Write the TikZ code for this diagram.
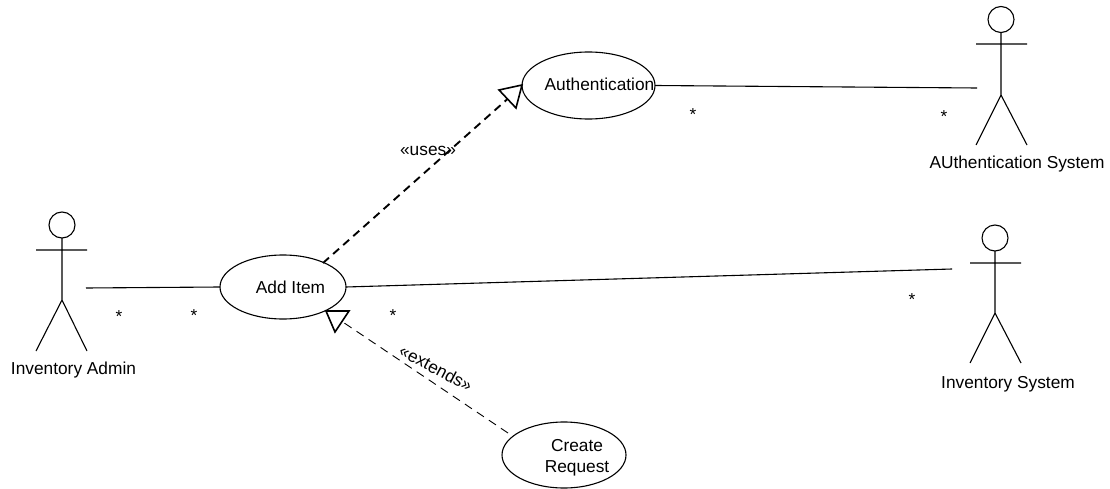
\documentclass[tikz,border=0pt]{standalone}
\usepackage{fontspec}
\usetikzlibrary{shapes.geometric}
\setmainfont{Liberation Sans}
\begin{document}
\begin{tikzpicture}[x=1pt,y=-1pt,
  line/.style={line width=1.1pt,black},
  usecase/.style={draw,ellipse,line width=1.1pt,inner sep=0pt,outer sep=0pt},
  label/.style={inner sep=0pt,outer sep=0pt,anchor=base,font=\fontsize{17.3}{21}\selectfont,align=center},
  head/.style={draw,circle,line width=1.1pt,inner sep=0pt,outer sep=0pt,minimum size=26pt},
  thickdash/.style={line width=1.9pt,dash pattern=on 8pt off 5.5pt},
  thindash/.style={line width=.9pt,dash pattern=on 8.5pt off 6pt},
  hollow/.style={draw,line width=1.6pt,fill=white,line join=miter}]
\useasboundingbox (0,0) rectangle (1110,489);
% use cases
\node[usecase,minimum width=126pt,minimum height=64pt] (add) at (283,287) {};
\node[usecase,minimum width=133pt,minimum height=67pt] (auth) at (588.5,85.5) {};
\node[usecase,minimum width=124pt,minimum height=66pt] (req) at (564,455) {};
\node[label] (addT) at (290.5,293) {Add Item};
\node[label] (authT) at (599.5,91) {Authentication};
\node[label] (reqT) at (577,472) {Create\\Request};
% actors
\node[head] (h1) at (62,225) {};
\coordinate (a1l) at (36,250);
\coordinate (a1r) at (87,250);
\coordinate (p1) at (62,300);
\coordinate (f1l) at (36,351);
\coordinate (f1r) at (87,351);
\draw[line] (h1) -- (p1) (a1l) -- (a1r) (f1l) -- (p1) -- (f1r);
\node[label] (t1) at (73.5,374) {Inventory Admin};
\node[head] (h2) at (1001,19.5) {};
\coordinate (a2l) at (976,44);
\coordinate (a2r) at (1027,44);
\coordinate (p2) at (1001,95);
\coordinate (f2l) at (976,145);
\coordinate (f2r) at (1027,145);
\draw[line] (h2) -- (p2) (a2l) -- (a2r) (f2l) -- (p2) -- (f2r);
\node[label] (t2) at (1017,169) {AUthentication System};
\node[head] (h3) at (995,238) {};
\coordinate (a3l) at (970,263);
\coordinate (a3r) at (1021,263);
\coordinate (p3) at (995,313);
\coordinate (f3l) at (970,363);
\coordinate (f3r) at (1021,363);
\draw[line] (h3) -- (p3) (a3l) -- (a3r) (f3l) -- (p3) -- (f3r);
\node[label] (t3) at (1008,388) {Inventory System};
% associations
\coordinate (e1) at (86,288);
\coordinate (e2) at (977,88);
\coordinate (e3) at (952,269);
\draw[line] (e1) -- (add.west);
\draw[line] (add.east) -- (e3);
\draw[line] (auth.east) -- (e2);
% multiplicities
\node[label] (s1) at (119,322) {*};
\node[label] (s2) at (194,321.5) {*};
\node[label] (s3) at (393,321.5) {*};
\node[label] (s4) at (912,305.5) {*};
\node[label] (s5) at (693,120.5) {*};
\node[label] (s6) at (944,122.5) {*};
% uses
\coordinate (u0) at (323,263);
\coordinate (uT) at (522,85);
\coordinate (uA) at (499,90);
\coordinate (uB) at (516,108);
\coordinate (uM) at (507.5,99);
\draw[thickdash] (u0) -- (uM);
\draw[hollow] (uT) -- (uA) -- (uB) -- cycle;
\node[label] (uL) at (428,156) {«uses»};
% extends
\coordinate (x0) at (508,433);
\coordinate (xT) at (326,311);
\coordinate (xA) at (349,311);
\coordinate (xB) at (335,332);
\coordinate (xM) at (342,321.5);
\draw[thindash] (x0) -- (xM);
\draw[hollow] (xT) -- (xA) -- (xB) -- cycle;
\node[inner sep=0pt,font=\fontsize{17.3}{21}\selectfont,rotate=-28] (xL) at (436,368) {«extends»};
\end{tikzpicture}
\end{document}
